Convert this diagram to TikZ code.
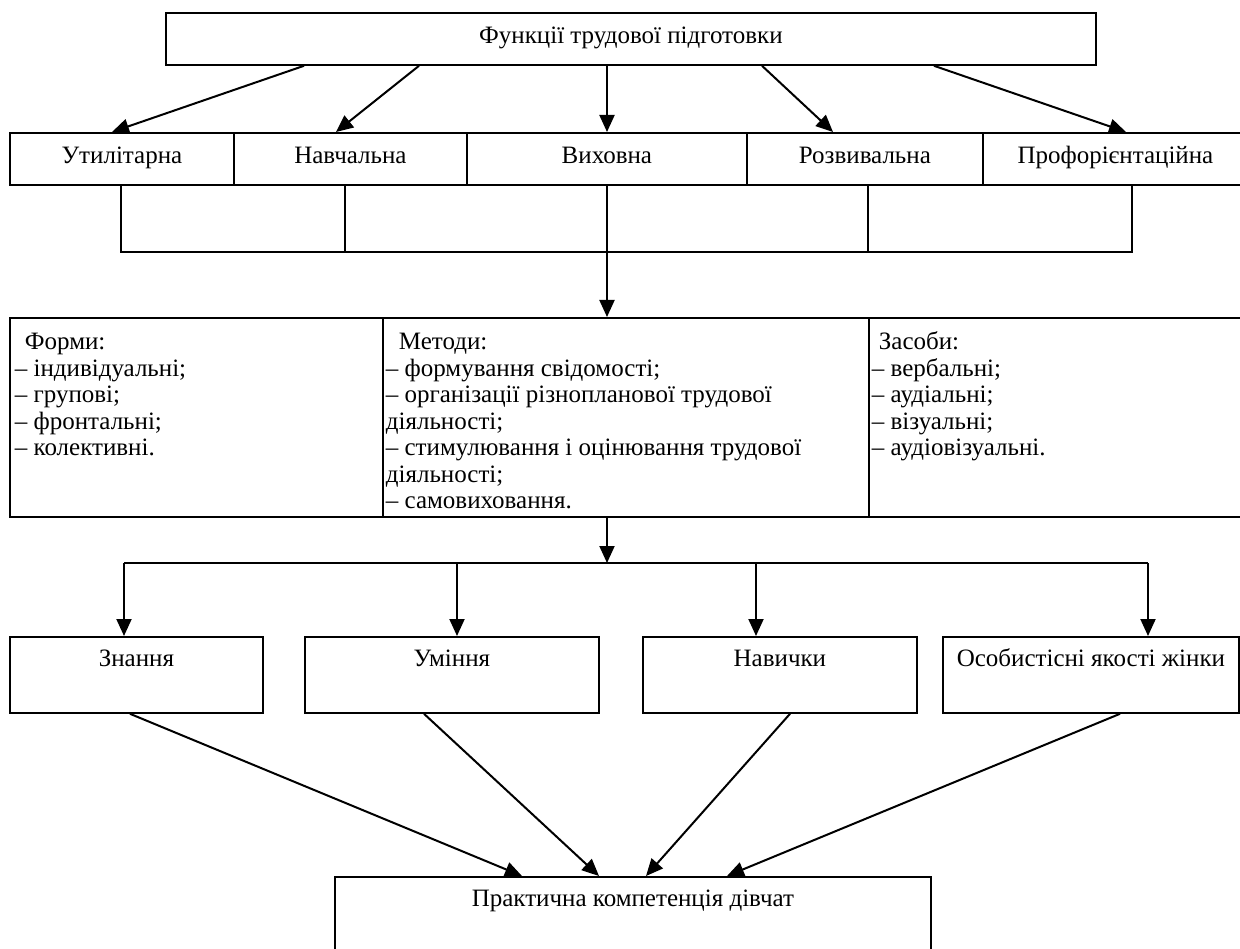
\documentclass[tikz,border=0pt]{standalone}
\usepackage{fontspec}
\setmainfont{Liberation Serif}
\usetikzlibrary{arrows.meta}
\newcommand\myfs{\fontsize{25}{26.5}\selectfont}
\newcommand\colbox[2]{\parbox[t][199pt][t]{#1}{\myfs\setlength{\parindent}{0pt}\raggedright #2}}
\begin{document}
\begin{tikzpicture}[x=1pt,y=-1pt,
  box/.style={draw,line width=1.8pt,inner sep=0pt,font=\myfs,anchor=north west},
  fbox/.style={box,text height=31pt,text depth=21pt},
  rbox/.style={box,text height=30pt,text depth=46pt},
  arr/.style={line width=2pt,-{Triangle[length=17pt,width=15pt]}},
  ln/.style={line width=2pt}]
\useasboundingbox (0,0) rectangle (1240,949);
\fill[white] (0,0) rectangle (1240,949);

% top
\node[fbox,minimum width=930pt] (top) at (165,12) {Функції трудової підготовки};

% functions row
\node[fbox,minimum width=224pt] (util) at (9,132) {Утилітарна};
\node[fbox,minimum width=233pt] (navch) at (233,132) {Навчальна};
\node[fbox,minimum width=280pt] (vykh) at (466,132) {Виховна};
\node[fbox,minimum width=236pt] (rozv) at (746,132) {Розвивальна};
\node[fbox,minimum width=265pt] (prof) at (982,132) {Профорієнтаційна};

\draw[arr] (top.south -| 304,0) -- (util.north -| 112,0);
\draw[arr] (top.south -| 419,0) -- (navch.north -| 336,0);
\draw[arr] (top.south -| 607,0) -- (vykh.north -| 607,0);
\draw[arr] (top.south -| 762,0) -- (rozv.north -| 833,0);
\draw[arr] (top.south -| 934,0) -- (prof.north -| 1126,0);

% bracket
\coordinate (b1) at (121,252);
\coordinate (b2) at (345,252);
\coordinate (b3) at (607,252);
\coordinate (b4) at (868,252);
\coordinate (b5) at (1132,252);
\draw[ln] (util.south -| b1) -- (b1) -- (b5) -- (prof.south -| b5);
\draw[ln] (navch.south -| b2) -- (b2);
\draw[ln] (vykh.south -| b3) -- (b3);
\draw[ln] (rozv.south -| b4) -- (b4);

% middle row
\node[box] (forms) at (9,317) {\colbox{373pt}{\rule{0pt}{32pt}\hspace{15pt}Форми:\\
\hspace{5pt}– індивідуальні;\\
\hspace{5pt}– групові;\\
\hspace{5pt}– фронтальні;\\
\hspace{5pt}– колективні.}};
\node[box] (methods) at (382,317) {\colbox{486pt}{\rule{0pt}{32pt}\hspace{16pt}Методи:\\
\hspace{3pt}– формування свідомості;\\
\hspace{3pt}– організації різнопланової трудової\\
\hspace{3pt}діяльності;\\
\hspace{3pt}– стимулювання і оцінювання трудової\\
\hspace{3pt}діяльності;\\
\hspace{3pt}– самовиховання.}};
\node[box] (means) at (868,317) {\colbox{385pt}{\rule{0pt}{32pt}\hspace{10pt}Засоби:\\
\hspace{3pt}– вербальні;\\
\hspace{3pt}– аудіальні;\\
\hspace{3pt}– візуальні;\\
\hspace{3pt}– аудіовізуальні.}};

\draw[arr] (b3) -- (methods.north -| b3);

% distribution
\coordinate (c0) at (607,563);
\coordinate (c1) at (124,563);
\coordinate (c2) at (457,563);
\coordinate (c3) at (756,563);
\coordinate (c4) at (1148,563);
\draw[arr] (methods.south -| c0) -- (c0);
\draw[ln] (c1) -- (c4);

% results row
\node[rbox,minimum width=253pt] (znan) at (9,636) {Знання};
\node[rbox,minimum width=294pt] (umin) at (304,636) {Уміння};
\node[rbox,minimum width=274pt] (navy) at (642,636) {Навички};
\node[rbox,minimum width=296pt] (osob) at (942,636) {Особистісні якості жінки};

\draw[arr] (c1) -- (znan.north -| c1);
\draw[arr] (c2) -- (umin.north -| c2);
\draw[arr] (c3) -- (navy.north -| c3);
\draw[arr] (c4) -- (osob.north -| c4);

% final
\node[box,minimum width=596pt,text height=30pt,text depth=100pt] (comp) at (334,876) {Практична компетенція дівчат};

\draw[arr] (znan.south -| 130,0) -- (comp.north -| 522,0);
\draw[arr] (umin.south -| 424,0) -- (comp.north -| 599,0);
\draw[arr] (navy.south -| 790,0) -- (comp.north -| 646,0);
\draw[arr] (osob.south -| 1120,0) -- (comp.north -| 727,0);
\end{tikzpicture}
\end{document}
